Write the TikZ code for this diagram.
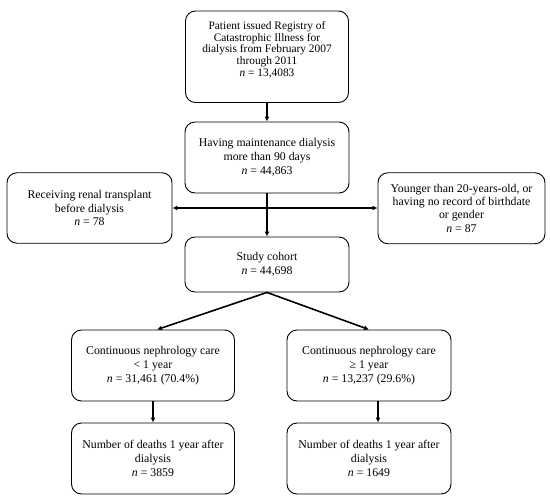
\documentclass[tikz,border=0pt]{standalone}
\usepackage{fontspec}
\setmainfont{Liberation Serif}
\usetikzlibrary{arrows.meta}
\begin{document}
\begin{tikzpicture}[x=1pt,y=-1pt,
  box/.style={draw, line width=0.9pt, rounded corners=10pt, align=center,
    inner sep=2pt, font=\fontsize{11.8}{13.8}\selectfont},
  arr/.style={line width=1.6pt, -{Latex[length=5pt,width=5pt]}}]
\useasboundingbox (0,0) rectangle (550,504);
\node[box, minimum width=163pt, minimum height=91.5pt,
  font=\fontsize{11.4}{11.8}\selectfont] (b1) at (267,56.75)
  {Patient issued Registry of\\Catastrophic Illness for\\dialysis from February 2007\\through 2011\\\textit{n} = 13,4083\\[4pt]\mbox{}};
\node[box, minimum width=164pt, minimum height=71pt] (b2) at (267,157.5)
  {Having maintenance dialysis\\more than 90 days\\\textit{n} = 44,863};
\node[box, minimum width=165pt, minimum height=70.5pt] (bl) at (89.5,208)
  {Receiving renal transplant\\before dialysis\\\textit{n} = 78};
\node[box, minimum width=167pt, minimum height=71pt, font=\fontsize{11.8}{13.3}\selectfont] (br) at (461.5,208.25)
  {Younger than 20-years-old, or\\having no record of birthdate\\or gender\\\textit{n} = 87};
\node[box, minimum width=164pt, minimum height=55pt] (sc) at (267,264.5)
  {Study cohort\\\textit{n} = 44,698};
\node[box, minimum width=163pt, minimum height=71pt] (cl) at (153,365.5)
  {Continuous nephrology care\\< 1 year\\\textit{n} = 31,461 (70.4\%)};
\node[box, minimum width=164pt, minimum height=71pt] (cr) at (369,365.5)
  {Continuous nephrology care\\≥ 1 year\\\textit{n} = 13,237 (29.6\%)};
\node[box, minimum width=163pt, minimum height=71pt] (dl) at (153,458.5)
  {Number of deaths 1 year after\\dialysis\\\textit{n} = 3859};
\node[box, minimum width=164pt, minimum height=71pt] (dr) at (369,458.5)
  {Number of deaths 1 year after\\dialysis\\\textit{n} = 1649};
\coordinate (mid) at (267,208);
\draw[arr] (b1.south) -- (b1.south |- b2.north);
\draw[arr] (b2.south) -- (sc.north);
\draw[arr] (mid) -- (bl.east);
\draw[arr] (mid) -- (br.west |- mid);
\draw[arr] (sc.south) -- ([xshift=4pt]cl.north);
\draw[arr] (sc.south) -- (cr.north);
\draw[arr] (cl.south) -- (dl.north);
\draw[arr] ([xshift=9pt]cr.south) -- ([xshift=9pt]dr.north);
\end{tikzpicture}
\end{document}
